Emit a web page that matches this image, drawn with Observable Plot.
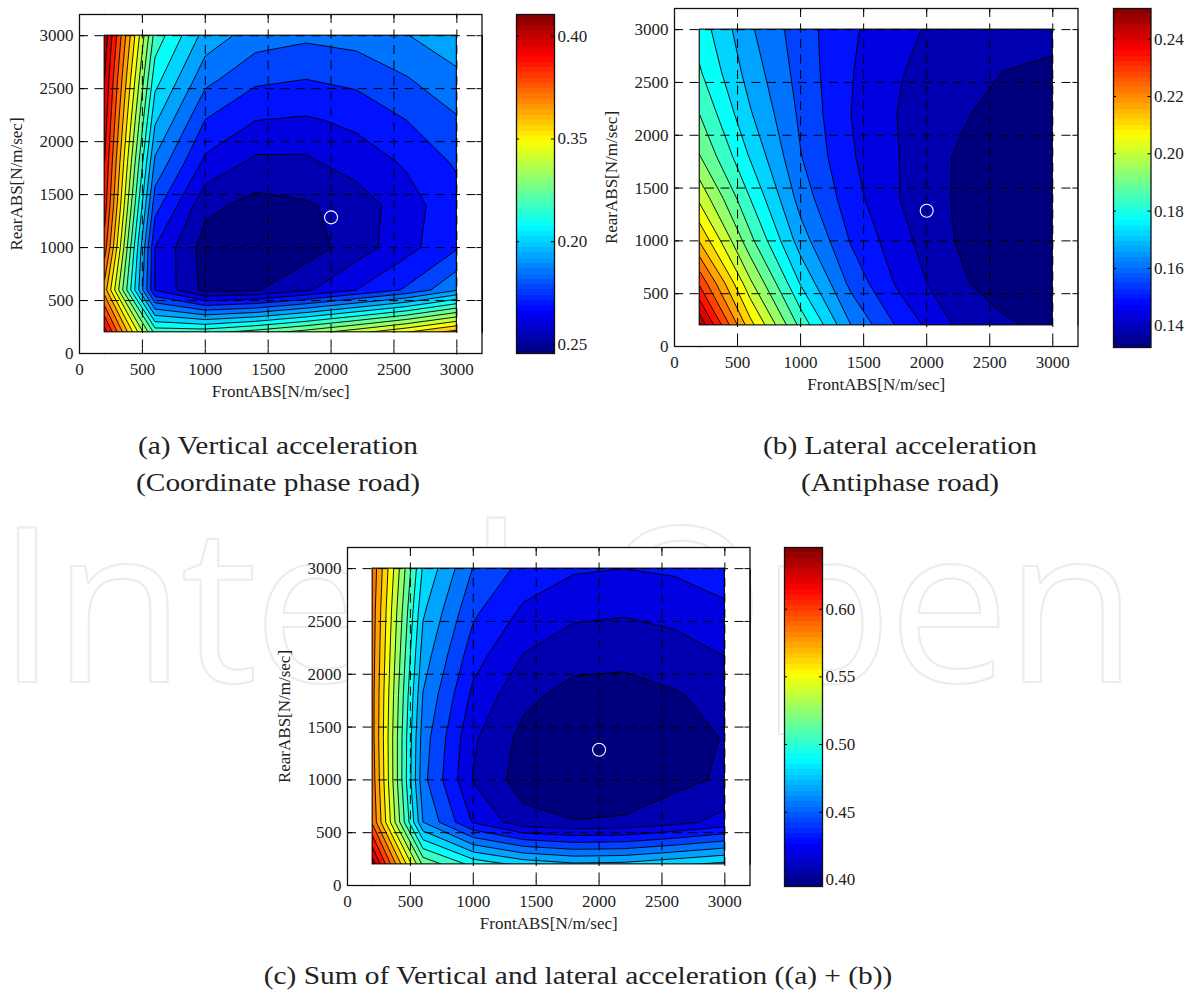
<!DOCTYPE html>
<html><head><meta charset="utf-8">
<script src="https://cdn.jsdelivr.net/npm/d3@7"></script>
<script src="https://cdn.jsdelivr.net/npm/@observablehq/plot@0.6"></script>
<style>
html,body{margin:0;padding:0;background:#fff}
#page{position:relative;width:1193px;height:992px;overflow:hidden;background:#fff}
#page svg{position:absolute;background:transparent;overflow:visible}
.cap{position:absolute;font-family:"Liberation Serif",serif;font-size:26px;color:#222;text-align:center;white-space:nowrap;transform:translateX(-50%) scaleX(1.13);line-height:37px}
#wm{position:absolute;left:-3px;top:468px;font-family:"Open Sans",sans-serif;font-weight:400;font-size:216px;line-height:260px;color:#fff;-webkit-text-stroke:2px #ececec;white-space:nowrap;letter-spacing:-4.5px}
</style></head>
<body><div id="page"><div id="wm">IntechOpen</div></div>
<script>
const axisTicks = [0, 500, 1000, 1500, 2000, 2500, 3000];
const gridTicks = [500, 1000, 1500, 2000, 2500, 3000];
const nodes = [200, 600, 1000, 1400, 1800, 2200, 2600, 3000];
const optimum = {x: 2000, y: 1285};
const xLabel = "FrontABS[N/m/sec]";
const yLabel = "RearABS[N/m/sec]";

// rows run from RearABS = 200 to 3000, columns from FrontABS = 200 to 3000
const valuesA = [
  .3989,.3218,.3218,.3281,.3360,.3454,.3556,.3674,
  .3674,.2688,.2511,.2527,.2601,.2692,.2782,.2920,
  .3832,.2692,.2499,.2464,.2495,.2574,.2664,.2763,
  .3910,.2801,.2556,.2509,.2526,.2562,.2664,.2735,
  .3949,.2910,.2671,.2594,.2596,.2653,.2700,.2782,
  .3989,.3018,.2768,.2692,.2682,.2708,.2770,.2840,
  .4028,.3118,.2876,.2790,.2773,.2794,.2845,.2908,
  .4075,.3211,.2975,.2888,.2865,.2880,.2924,.2983
];
const levelsA = [.2456,.25346,.26132,.26918,.27704,.2849,.29276,.30062,.30848,.31634,.3242,.33206,.33992,.34778,.35564,.3635,.37136,.37922,.38708,.39494,.4028];
const barA = {min: .2456, max: .4106, ticks: [.25, .30, .35, .40], labels: ["0.25", "0.20", "0.35", "0.40"]};

const valuesB = [
  .2495,.2135,.1870,.1662,.1532,.1438,.1392,.1363,
  .2326,.2011,.1769,.1589,.1476,.1397,.1349,.1341,
  .2163,.1904,.1690,.1544,.1453,.1382,.1352,.1341,
  .2042,.1831,.1639,.1515,.1434,.1379,.1341,.1332,
  .1946,.1769,.1608,.1499,.1434,.1380,.1347,.1341,
  .1886,.1724,.1594,.1493,.1431,.1392,.1361,.1355,
  .1836,.1693,.1583,.1496,.1439,.1403,.1380,.1366,
  .1805,.1670,.1575,.1501,.1453,.1411,.1403,.1403
];
const levelsB = [.1324,.13803,.14366,.14929,.15492,.16055,.16618,.17181,.17744,.18307,.1887,.19433,.19996,.20559,.21122,.21685,.22248,.22811,.23374,.23937,.245];
const barB = {min: .1324, max: .2507, ticks: [.14, .16, .18, .20, .22, .24], labels: ["0.14", "0.16", "0.18", "0.20", "0.22", "0.24"]};

const valuesC = [
  .6397,.5239,.4989,.4870,.4810,.4822,.4882,.4941,
  .5955,.4667,.4297,.4114,.4076,.4085,.4148,.4233,
  .5919,.4583,.4184,.4011,.3981,.3993,.4035,.4088,
  .5896,.4607,.4208,.4035,.3993,.3987,.4023,.4076,
  .5896,.4661,.4279,.4100,.4026,.4018,.4058,.4112,
  .5908,.4732,.4363,.4190,.4122,.4111,.4145,.4196,
  .5919,.4804,.4452,.4287,.4217,.4204,.4225,.4283,
  .5943,.4888,.4542,.4392,.4324,.4309,.4328,.4376
];
const levelsC = [.3951,.4070,.4190,.4309,.4428,.4548,.4667,.4786,.4905,.5025,.5144,.5263,.5383,.5502,.5621,.5741,.5860,.5979,.6098,.6218,.6337];
const barC = {min: .3951, max: .6456, ticks: [.40, .45, .50, .55, .60], labels: ["0.40", "0.45", "0.50", "0.55", "0.60"]};

const jet = ["#00007f","#0000ff","#007fff","#00ffff","#7fff7f","#ffff00","#ff7f00","#ff0000","#7f0000"];
const jetInterpolate = d3.piecewise(d3.interpolateRgb, jet);

const captions = [
  {text: "(a) Vertical acceleration", x: 278, y: 427},
  {text: "(Coordinate phase road)", x: 278, y: 464},
  {text: "(b) Lateral acceleration", x: 900, y: 427},
  {text: "(Antiphase road)", x: 900, y: 464},
  {text: "(c) Sum of Vertical and lateral acceleration ((a) + (b))", x: 578, y: 957}
];

const font = {fontFamily: "Liberation Serif, serif", fontSize: 17, color: "#222"};
const page = document.getElementById("page");
const lo = d3.min(nodes), hi = d3.max(nodes), span = 3200, tickLen = 40;
const margins = [
  {x1: 0, x2: span, y1: 0, y2: lo}, {x1: 0, x2: span, y1: hi, y2: span},
  {x1: 0, x2: lo, y1: 0, y2: span}, {x1: hi, x2: span, y1: 0, y2: span}
];

function place(svg, ox, oy) {
  svg.style.left = ox + "px";
  svg.style.top = oy + "px";
  page.appendChild(svg);
}

function contourPanel(values, levels, bar, f) {
  const ox = f.L - 79, oy = f.T - 14;
  const w = f.R - ox + 6, h = f.B - oy + 50;
  const svg = Plot.plot({
    width: w, height: h,
    marginLeft: f.L - ox, marginRight: w - (f.R - ox), marginTop: f.T - oy, marginBottom: h - (f.B - oy),
    style: font,
    x: {domain: [0, span]},
    y: {domain: [0, span]},
    color: {type: "linear", domain: [bar.min, bar.max], interpolate: jetInterpolate},
    marks: [
      Plot.frame({fill: "white"}),
      Plot.contour(values, {width: nodes.length, height: nodes.length, x1: 0, y1: 0, x2: span, y2: span,
        thresholds: levels, fill: Plot.identity, stroke: "#000", strokeWidth: 0.9}),
      Plot.rect(margins, {x1: "x1", x2: "x2", y1: "y1", y2: "y2", fill: "white"}),
      Plot.rect([{x1: lo, x2: hi, y1: lo, y2: hi}], {x1: "x1", x2: "x2", y1: "y1", y2: "y2", stroke: "#000", strokeWidth: 1.1}),
      Plot.ruleX(gridTicks, {stroke: "#000", strokeWidth: 1, strokeDasharray: "9 6.5"}),
      Plot.ruleY(gridTicks, {stroke: "#000", strokeWidth: 1, strokeDasharray: "9 6.5"}),
      Plot.ruleX(gridTicks, {y1: 0, y2: tickLen, stroke: "#000"}),
      Plot.ruleX(gridTicks, {y1: span - tickLen, y2: span, stroke: "#000"}),
      Plot.ruleY(gridTicks, {x1: 0, x2: tickLen, stroke: "#000"}),
      Plot.ruleY(gridTicks, {x1: span - tickLen, x2: span, stroke: "#000"}),
      Plot.dot([optimum], {x: "x", y: "y", r: 6.5, stroke: "white", strokeWidth: 1.1, fill: "none"}),
      Plot.frame({stroke: "#111", strokeWidth: 1.3}),
      Plot.axisX({anchor: "bottom", ticks: axisTicks, tickSize: 0, tickPadding: 9, tickFormat: d => `${d}`,
        label: xLabel, labelAnchor: "center", labelArrow: "none", labelOffset: 43}),
      Plot.axisY({anchor: "left", ticks: axisTicks, tickSize: 0, tickPadding: 6, tickFormat: d => `${d}`,
        label: yLabel, labelAnchor: "center", labelArrow: "none", labelOffset: 70})
    ]
  });
  place(svg, ox, oy);
}

function colorBar(bar, f) {
  const ox = f.L - 4, oy = f.T - 4, w = f.R - ox + 46, h = f.B - oy + 6;
  const n = 64, step = (bar.max - bar.min) / n;
  const cells = d3.range(n).map(i => bar.min + i * step);
  const svg = Plot.plot({
    width: w, height: h,
    marginLeft: f.L - ox, marginRight: w - (f.R - ox), marginTop: f.T - oy, marginBottom: h - (f.B - oy),
    style: font,
    x: {domain: [0, 1], axis: null},
    y: {domain: [bar.min, bar.max]},
    color: {type: "linear", domain: [bar.min, bar.max], interpolate: jetInterpolate},
    marks: [
      Plot.rect(cells, {x1: 0, x2: 1, y1: d => d, y2: d => Math.min(d + step * 1.3, bar.max),
        fill: d => d + step / 2, shapeRendering: "crispEdges", inset: 0}),
      Plot.ruleY(bar.ticks, {x1: 0, x2: 0.08, stroke: "#000"}),
      Plot.ruleY(bar.ticks, {x1: 0.92, x2: 1, stroke: "#000"}),
      Plot.frame({stroke: "#111", strokeWidth: 1.3}),
      Plot.axisY({anchor: "right", ticks: bar.ticks, tickSize: 0, tickPadding: 3, label: null,
        tickFormat: d => bar.labels[bar.ticks.indexOf(d)]})
    ]
  });
  place(svg, ox, oy);
}

contourPanel(valuesA, levelsA, barA, {L: 79, R: 481.5, T: 14, B: 353});
colorBar(barA, {L: 516, R: 554, T: 14, B: 353});
contourPanel(valuesB, levelsB, barB, {L: 674, R: 1077.5, T: 8, B: 346});
colorBar(barB, {L: 1112.5, R: 1150, T: 8, B: 347});
contourPanel(valuesC, levelsC, barC, {L: 347, R: 749.5, T: 547, B: 885});
colorBar(barC, {L: 784, R: 822, T: 547, B: 886});

for (const c of captions) {
  const el = document.createElement("div");
  el.className = "cap";
  el.textContent = c.text;
  el.style.left = c.x + "px";
  el.style.top = c.y + "px";
  page.appendChild(el);
}
</script></body></html>
